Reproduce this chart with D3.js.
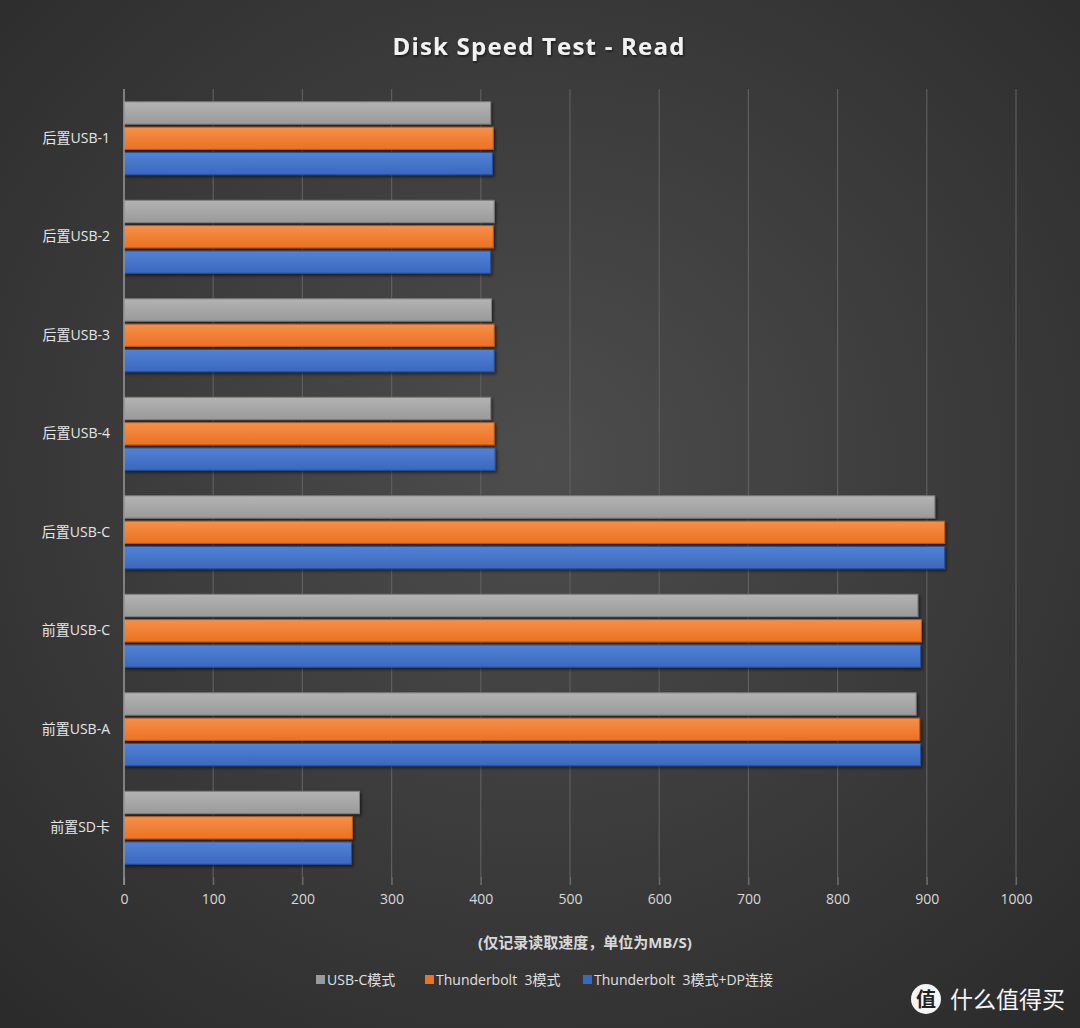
<!DOCTYPE html>
<html><head><meta charset="utf-8">
<script src="https://cdn.jsdelivr.net/npm/d3@7"></script>
<style>
html,body{margin:0;padding:0;background:#333;}
svg{display:block;}
text{font-family:"Open Sans","Noto Sans CJK SC",sans-serif;}
</style></head>
<body>
<svg id="chart" width="1080" height="1028"></svg>
<script>
const categories = ["后置USB-1","后置USB-2","后置USB-3","后置USB-4","后置USB-C","前置USB-C","前置USB-A","前置SD卡"];
const seriesNames = ["USB-C模式","Thunderbolt  3模式","Thunderbolt  3模式+DP连接"];
const usbcValues = [411, 415, 412, 411, 909, 890, 888, 264];
const tb3Values = [414, 414, 415, 415, 920, 894, 892, 256];
const tb3dpValues = [413, 411, 415, 416, 920, 893, 893, 255];
const xTicks = [0,100,200,300,400,500,600,700,800,900,1000];
const title = "Disk Speed Test - Read";
const axisTitle = "(仅记录读取速度，单位为MB/S)";
const seriesColors = [["#b3b3b3","#9a9a9a","#7f7f7f"],["#f5904a","#ec7122","#b85a1c"],["#5282d4","#3a68c0","#2b4f96"]];

(function(){
const svg = d3.select("#chart");
const W = 1080, H = 1028;
const defs = svg.append("defs");
const bg = defs.append("radialGradient").attr("id","bg").attr("cx","50%").attr("cy","45%").attr("r","75%");
bg.append("stop").attr("offset","0%").attr("stop-color","#4d4d4d");
bg.append("stop").attr("offset","100%").attr("stop-color","#2a2a2a");
svg.append("rect").attr("width",W).attr("height",H).attr("fill","url(#bg)");

seriesColors.forEach((c,i)=>{
  const g = defs.append("linearGradient").attr("id","g"+i).attr("x1",0).attr("y1",0).attr("x2",0).attr("y2",1);
  g.append("stop").attr("offset","0%").attr("stop-color",c[0]);
  g.append("stop").attr("offset","100%").attr("stop-color",c[1]);
});
const f = defs.append("filter").attr("id","sh").attr("x","-5%").attr("y","-30%").attr("width","115%").attr("height","180%");
f.append("feDropShadow").attr("dx",1.5).attr("dy",2).attr("stdDeviation",1.5).attr("flood-color","#000").attr("flood-opacity",0.55);
const tf = defs.append("filter").attr("id","tsh").attr("x","-5%").attr("y","-30%").attr("width","110%").attr("height","160%");
tf.append("feDropShadow").attr("dx",1).attr("dy",1.5).attr("stdDeviation",1).attr("flood-color","#000").attr("flood-opacity",0.6);

const pLeft = 124, pRight = 1016, pTop = 89, pBottom = 877;
const x = d3.scaleLinear().domain([0,1000]).range([pLeft,pRight]);
const y = d3.scaleBand().domain(categories).range([pTop,pBottom]).paddingInner(0.26).paddingOuter(0.13);
const ySub = d3.scaleBand().domain([0,1,2]).range([0,y.bandwidth()]).paddingInner(0.12);

svg.append("g").selectAll("line").data(xTicks.slice(1)).join("line")
  .attr("x1",d=>x(d)).attr("x2",d=>x(d)).attr("y1",pTop).attr("y2",pBottom+8)
  .attr("stroke","#5e5e5e").attr("stroke-width",1.2);

const xAxis = d3.axisBottom(x).tickValues(xTicks).tickSize(8).tickFormat(d3.format("d"));
const ax = svg.append("g").attr("transform",`translate(0,${pBottom})`).call(xAxis);
ax.select(".domain").remove();
ax.selectAll(".tick line").attr("stroke","#6a6a6a").attr("stroke-width",1.2);
ax.selectAll(".tick text").attr("fill","#d9d9d9").attr("font-size",14).attr("dy","1.15em");

const allValues = [usbcValues, tb3Values, tb3dpValues];
allValues.forEach((vals,si)=>{
  svg.append("g").selectAll("rect").data(vals).join("rect")
    .attr("x",x(0)).attr("y",(d,i)=>y(categories[i])+ySub(si))
    .attr("width",d=>x(d)-x(0)).attr("height",ySub.bandwidth())
    .attr("fill",`url(#g${si})`).attr("stroke",seriesColors[si][2]).attr("stroke-width",1)
    .attr("filter","url(#sh)");
});

svg.append("line").attr("x1",pLeft).attr("x2",pLeft).attr("y1",pTop).attr("y2",pBottom+8)
  .attr("stroke","#9a9a9a").attr("stroke-width",1.5);

const yAxis = d3.axisLeft(y).tickSize(0).tickPadding(14);
const ay = svg.append("g").attr("transform",`translate(${pLeft},0)`).call(yAxis);
ay.select(".domain").remove();
ay.selectAll(".tick text").attr("fill","#e6e6e6").attr("font-size",14);

svg.append("text").attr("x",539).attr("y",55).attr("text-anchor","middle")
  .attr("fill","#f2f2f2").attr("font-size",24).attr("font-weight","bold").attr("letter-spacing",1.2)
  .attr("filter","url(#tsh)").text(title);

svg.append("text").attr("x",585).attr("y",948).attr("text-anchor","middle")
  .attr("fill","#d9d9d9").attr("font-size",15).attr("font-weight","bold").text(axisTitle);

const legX = [316, 425, 583];
seriesNames.forEach((n,i)=>{
  svg.append("rect").attr("x",legX[i]).attr("y",975).attr("width",9).attr("height",9).attr("fill",seriesColors[i][1]);
  svg.append("text").attr("x",legX[i]+11).attr("y",985).attr("fill","#e0e0e0").attr("font-size",14)
    .style("white-space","pre").text(n);
});

svg.append("circle").attr("cx",926).attr("cy",999).attr("r",15).attr("fill","#f5f5f5");
svg.append("text").attr("x",926).attr("y",1007).attr("text-anchor","middle").attr("fill","#222")
  .attr("font-size",20).attr("font-weight","bold").text("值");
svg.append("text").attr("x",950).attr("y",1008).attr("fill","#f5f5f5").attr("font-size",23)
  .attr("font-family","Noto Sans CJK SC").text("什么值得买");
})();
</script>
</body></html>
